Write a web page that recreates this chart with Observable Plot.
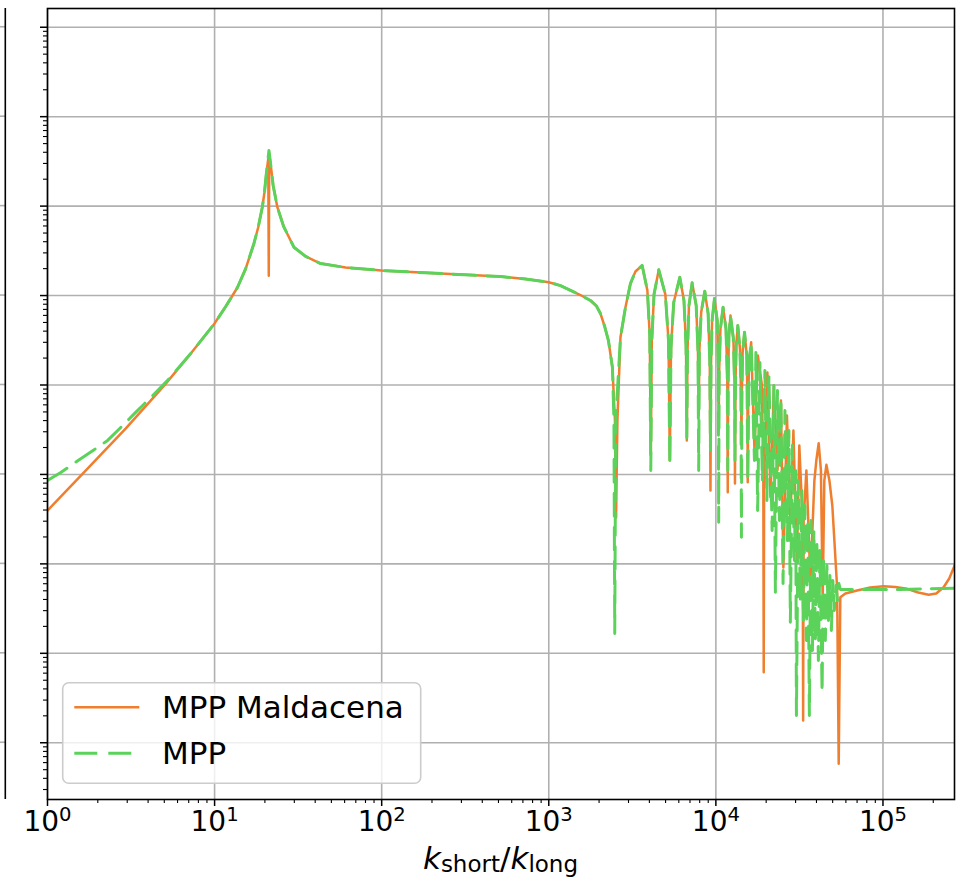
<!DOCTYPE html>
<html>
<head>
<meta charset="utf-8">
<script src="https://cdn.jsdelivr.net/npm/d3@7"></script>
<script src="https://cdn.jsdelivr.net/npm/@observablehq/plot@0.6"></script>
<style>
  html, body { margin: 0; padding: 0; background: #fff; }
  #wrap { position: relative; width: 961px; height: 879px; overflow: hidden; font-family: "DejaVu Sans", sans-serif; }
  #wrap svg { display: block; }
  #overlay { position: absolute; left: 0; top: 0; pointer-events: none; }
</style>
</head>
<body>
<div id="wrap"></div>
<script>
// ---------- data ----------
const seriesNames = ["MPP Maldacena", "MPP"];
const seriesColors = ["#ef7f2e", "#5bd35b"];

// [k_short/k_long, value]
const mppMaldacena = [
  [1,3.95e-5],[1.697,1.107e-4],[2.944,3.27e-4],[5.05,1.01e-3],[7.20,2.25e-3],[10,4.88e-3],
  [11.66,7.55e-3],[13.7,1.23e-2],[15.35,2.00e-2],[17.2,3.82e-2],[18.23,5.77e-2],[19.3,9.72e-2],
  [19.88,0.142],[20.35,0.22],[20.95,0.34],[21.1,1.67e-2],[21.24,0.387],[21.95,0.238],
  [22.41,0.170],[23.75,9.72e-2],[25.90,5.92e-2],[29.85,3.47e-2],[35.06,2.74e-2],[43.1,2.28e-2],
  [60.8,2.06e-2],[100,1.905e-2],[258,1.74e-2],[514,1.63e-2],[725.5,1.53e-2],[1000,1.41e-2],
  [1175,1.29e-2],[1349,1.14e-2],[1547,1.014e-2],[1776,8.81e-3],[1929,7.64e-3],[2038,6.30e-3],
  [2153,4.62e-3],[2275,3.14e-3],[2404,1.57e-3],[2489,4.01e-4],[2529,3.30e-5],[2575,4.01e-4],
  [2685,3.40e-3],[2876,7.35e-3],[3081,1.36e-2],[3301,1.86e-2],
  [3622,2.17e-2],[3892,1.14e-2],[4021,3.57e-3],[4079,1.63e-4],[4137,3.14e-3],[4265,1.03e-2],
  [4553,1.94e-2],[4984,1.03e-2],[5206,3.14e-3],[5302,1.43e-4],[5390,2.62e-3],[5594,8.35e-3],
  [6083,1.60e-2],[6442,8.79e-3],[6627,2.76e-3],[6701,2.39e-4],[6764,2.43e-3],[6902,7.73e-3],
  [7212,1.39e-2],[7625,7.73e-3],[7812,2.43e-3],[7893,4.56e-4],[7968,2.43e-3],[8166,6.46e-3],
  [8583,1.12e-2],[8987,6.29e-3],[9193,1.88e-3],[9285,6.61e-5],[9350,1.65e-3],[9493,5.25e-3],
  [9804,9.26e-3],[10195,5.25e-3],[10337,1.65e-3],[10394,3.10e-4],[10464,1.45e-3],[10654,4.28e-3],
  [11044,7.40e-3],[11490,4.28e-3],[11700,1.28e-3],[11780,6.33e-5],[11850,1.12e-3],[11970,3.57e-3],
  [12230,5.97e-3],[12730,3.31e-3],[12940,9.86e-4],[13010,7.91e-5],[13100,9.86e-4],[13230,2.76e-3],
  [13530,4.62e-3],[13930,2.56e-3],[14130,8.67e-4],[14220,2.39e-4],[14320,8.67e-4],[14460,2.31e-3],
  [14840,3.89e-3],[15310,2.14e-3],[15450,6.70e-4],[15510,8.18e-5],[15620,6.70e-4],[15800,1.78e-3],
  [16260,3.00e-3],[17020,1.85e-4],[17830,2.14e-3],[18870,9.86e-4],[19230,8.55e-5],[19340,6.15e-7],
  [19440,8.55e-5],[20340,1.38e-3],[21220,5.56e-5],[22240,9.86e-4],[23370,1.11e-4],[24510,6.70e-4],
  [25350,9.11e-6],[26630,4.56e-4],[27910,3.05e-5],[29110,3.10e-4],[30550,1.09e-5],[31580,2.10e-4],
  [33060,3.05e-5],[33290,1.77e-7],[33510,3.05e-5],[34810,1.11e-4],[36800,6.52e-6],[38870,8.55e-5],
  [39920,1.43e-4],[41250,2.23e-4],[42530,1.11e-4],[43580,3.89e-6],[44570,8.55e-5],[45860,1.28e-4],
  [47810,8.55e-5],[49770,4.49e-5],[53160,5.48e-6],[54340,5.82e-8],[55570,4.24e-6],[59600,4.66e-6],
  [69940,5.04e-6],[83950,5.45e-6],[100800,5.63e-6],[118500,5.52e-6],[139300,5.26e-6],[162600,4.79e-6],
  [187700,4.51e-6],[208400,4.66e-6],[230700,5.48e-6],[249200,6.87e-6],[268500,9.59e-6]
];

const mpp = [
  [1,8.55e-5],[1.201,1.05e-4],[1.58,1.50e-4],[1.892,1.875e-4],[2.29,2.40e-4],[2.744,3.35e-4],
  [3.30,4.76e-4],[4.148,7.24e-4],[5.22,1.12e-3],[7.20,2.25e-3],[10,4.88e-3],[11.66,7.55e-3],
  [13.7,1.23e-2],[15.35,2.00e-2],[17.2,3.82e-2],[18.23,5.77e-2],[19.3,9.72e-2],[19.88,0.142],
  [20.35,0.22],[21.15,0.419],[21.95,0.238],[22.41,0.170],[23.75,9.72e-2],[25.90,5.92e-2],
  [29.85,3.47e-2],[35.06,2.74e-2],[43.1,2.28e-2],[60.8,2.06e-2],[100,1.905e-2],[258,1.74e-2],
  [514,1.63e-2],[725.5,1.53e-2],[1000,1.41e-2],[1175,1.29e-2],[1349,1.14e-2],[1547,1.014e-2],
  [1776,8.81e-3],[1929,7.64e-3],[2038,6.30e-3],[2153,4.62e-3],[2275,3.14e-3],[2404,1.57e-3],
  [2455,4.01e-4],[2482,1.67e-6],[2516,4.01e-4],[2685,3.40e-3],[2876,7.35e-3],
  [3081,1.36e-2],[3301,1.86e-2],
  [3622,2.17e-2],[3892,1.14e-2],[4021,3.57e-3],[4079,1.11e-4],[4137,3.14e-3],[4265,1.03e-2],
  [4553,1.94e-2],[4984,1.03e-2],[5206,3.14e-3],[5302,1.26e-4],[5390,2.62e-3],[5594,8.35e-3],
  [6083,1.60e-2],[6442,8.79e-3],[6627,2.76e-3],[6701,2.59e-4],[6764,2.43e-3],[6902,7.73e-3],
  [7212,1.39e-2],[7625,7.73e-3],[7812,2.43e-3],[7893,1.11e-4],[7968,2.43e-3],[8166,6.46e-3],
  [8583,1.12e-2],[8987,6.29e-3],[9193,1.88e-3],[9285,1.85e-4],[9350,1.65e-3],[9493,5.25e-3],
  [9804,9.26e-3],[10195,5.25e-3],[10337,1.65e-3],[10394,2.92e-5],[10464,1.45e-3],[10654,4.28e-3],
  [11044,7.40e-3],[11490,4.28e-3],[11700,1.28e-3],[11780,1.11e-4],[11850,1.12e-3],[11970,3.57e-3],
  [12230,5.97e-3],[12730,3.31e-3],[12940,9.86e-4],[13010,1.43e-4],[13100,9.86e-4],[13230,2.76e-3],
  [13530,4.62e-3],[13930,2.56e-3],[14130,8.67e-4],[14220,1.99e-5],[14320,8.67e-4],[14460,2.31e-3],
  [14840,3.89e-3],[15310,2.14e-3],[15530,8.55e-5],[15800,1.78e-3],[16260,3.00e-3],[17020,1.43e-4],
  [17360,2.31e-3],[17780,3.95e-5],[18350,1.78e-3],[19000,8.55e-5],[19650,1.45e-3],[20190,5.11e-5],
  [20780,1.28e-3],[21710,2.36e-5],[22240,9.86e-4],[22710,4.82e-6],[23370,8.67e-4],[24020,3.05e-5],
  [24510,6.70e-4],[25240,6.03e-6],[25900,5.18e-4],[26810,1.82e-5],[27360,3.10e-4],[27910,2.23e-6],
  [28700,2.10e-4],[29520,1.09e-5],[30020,1.11e-4],[30350,2.02e-7],[31170,8.55e-5],[32040,3.89e-6],
  [32730,6.61e-5],[33420,2.33e-6],[34110,4.49e-5],[34810,1.39e-6],[35500,3.05e-5],[36280,2.02e-7],
  [37060,3.05e-5],[37830,1.075e-6],[38610,2.36e-5],[39390,1.39e-6],[40210,1.82e-5],[41070,8.31e-7],
  [41950,1.41e-5],[43230,3.67e-7],[43990,1.24e-5],[45200,1.39e-6],[46190,9.59e-6],[47170,2.33e-6],
  [48140,7.41e-6],[49120,1.80e-6],[50100,6.52e-6],[51180,3.01e-6],[52280,5.73e-6],[53380,3.89e-6],
  [54480,6.03e-6],[55570,5.17e-6],[73260,5.17e-6],[127000,5.17e-6],[268500,5.34e-6]
];

const xMajorTicks = [1, 10, 100, 1000, 10000, 100000];
const yMajorTicks = [1e-7, 1e-6, 1e-5, 1e-4, 1e-3, 1e-2, 1e-1, 1, 10];
const xDomain = [1, 2.68e5];
const yDomain = [2.32e-8, 16.2];
const xLabelParts = ["k", "short", "/", "k", "long"];

// ---------- helpers ----------
function minorTicks(lo, hi) {
  const out = [];
  for (let e = Math.floor(Math.log10(lo)); e <= Math.ceil(Math.log10(hi)); e++) {
    for (let m = 2; m <= 9; m++) {
      const v = m * Math.pow(10, e);
      if (v >= lo && v <= hi) out.push(v);
    }
  }
  return out;
}
const xMinorTicks = minorTicks(xDomain[0], xDomain[1]);
const yMinorTicks = minorTicks(yDomain[0], yDomain[1]);

const toRows = (arr, name) => arr.map(([k, v]) => ({k, v, series: name}));
const rowsA = toRows(mppMaldacena, seriesNames[0]);
const rowsB = toRows(mpp, seriesNames[1]);

const chart = Plot.plot({
  width: 961,
  height: 879,
  marginLeft: 47,
  marginRight: 7,
  marginTop: 8,
  marginBottom: 80,
  style: {fontFamily: "DejaVu Sans, sans-serif", background: "white", color: "black"},
  x: {type: "log", domain: xDomain},
  y: {type: "log", domain: yDomain},
  marks: [
    Plot.ruleX(xMajorTicks, {x: d => d, stroke: "#b0b0b0", strokeWidth: 1.6}),
    Plot.ruleY(yMajorTicks, {y: d => d, stroke: "#b0b0b0", strokeWidth: 1.6}),
    Plot.line(rowsA, {x: "k", y: "v", stroke: seriesColors[0], strokeWidth: 2.5, clip: true}),
    Plot.line(rowsB, {x: "k", y: "v", stroke: seriesColors[1], strokeWidth: 3, strokeDasharray: "23,11", clip: true}),
    Plot.frame({stroke: "black", strokeWidth: 1.6}),
    Plot.axisX(xMinorTicks, {anchor: "bottom", tickSize: 4, strokeWidth: 1.1, tickFormat: () => "", label: null}),
    Plot.axisX(xMajorTicks, {anchor: "bottom", tickSize: 7, strokeWidth: 1.5, tickPadding: 5, fontSize: 28,
      tickFormat: d => "10^" + Math.round(Math.log10(d)), label: null}),
    Plot.axisY(yMinorTicks, {anchor: "left", tickSize: 4, strokeWidth: 1.1, tickFormat: () => "", label: null}),
    Plot.axisY(yMajorTicks, {anchor: "left", tickSize: 7, strokeWidth: 1.5, tickFormat: () => "", label: null})
  ]
});

// superscript exponents on x tick labels
const NS = "http://www.w3.org/2000/svg";
chart.querySelectorAll("text").forEach(t => {
  const m = /^10\^(\d+)$/.exec(t.textContent.trim());
  if (!m) return;
  t.textContent = "";
  const base = document.createElementNS(NS, "tspan");
  base.textContent = "10";
  const sup = document.createElementNS(NS, "tspan");
  sup.setAttribute("font-size", "19.6");
  sup.setAttribute("dy", "-10.5");
  sup.textContent = m[1];
  t.appendChild(base);
  t.appendChild(sup);
});

const wrap = document.getElementById("wrap");
wrap.appendChild(chart);

// overlay: legend, axis label, neighbouring panel edge
const ov = d3.select(wrap).append("svg").attr("id", "overlay").attr("width", 961).attr("height", 879)
  .style("font-family", "DejaVu Sans, sans-serif");

const yScale = chart.scale("y");
yMajorTicks.forEach(v => {
  const yy = yScale.apply(v);
  ov.append("line").attr("x1", 0).attr("x2", 5).attr("y1", yy).attr("y2", yy)
    .attr("stroke", "#b0b0b0").attr("stroke-width", 1.6);
});
ov.append("line").attr("x1", 5.3).attr("x2", 5.3).attr("y1", 8).attr("y2", 799)
  .attr("stroke", "black").attr("stroke-width", 1.6);

const lg = ov.append("g");
lg.append("rect").attr("x", 62.7).attr("y", 682.7).attr("width", 358).attr("height", 100.6)
  .attr("rx", 6).attr("fill", "white").attr("fill-opacity", 0.8)
  .attr("stroke", "#cccccc").attr("stroke-width", 1.6);
seriesNames.forEach((name, i) => {
  const yy = 707.3 + i * 46;
  lg.append("line").attr("x1", 74.3).attr("x2", 139.3).attr("y1", yy).attr("y2", yy)
    .attr("stroke", seriesColors[i]).attr("stroke-width", i === 0 ? 2.5 : 3)
    .attr("stroke-dasharray", i === 0 ? null : "23,11");
  lg.append("text").attr("x", 162).attr("y", yy + 11).attr("font-size", 31).attr("fill", "black").text(name);
});

const xl = ov.append("text").attr("x", 500.5).attr("y", 869).attr("text-anchor", "middle")
  .attr("font-size", 31).attr("fill", "black");
xl.append("tspan").attr("font-style", "italic").text(xLabelParts[0]);
xl.append("tspan").attr("font-size", 23).attr("dy", 3).text(xLabelParts[1]);
xl.append("tspan").attr("dy", -3).text(xLabelParts[2]);
xl.append("tspan").attr("font-style", "italic").text(xLabelParts[3]);
xl.append("tspan").attr("font-size", 23).attr("dy", 3).text(xLabelParts[4]);
</script>
</body>
</html>
